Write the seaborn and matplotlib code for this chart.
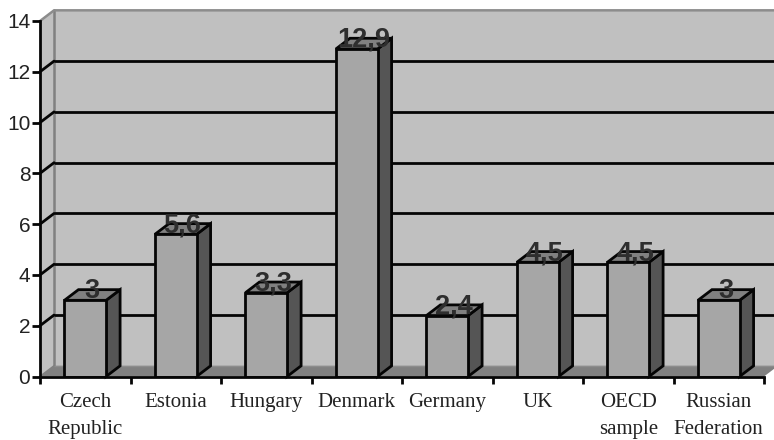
import matplotlib
matplotlib.use("Agg")
import matplotlib.pyplot as plt
from matplotlib.patches import Polygon
import numpy as np
import pandas as pd
import seaborn as sns

countries = ["Czech\nRepublic", "Estonia", "Hungary", "Denmark", "Germany",
             "UK", "OECD\nsample", "Russian\nFederation"]
values = [3, 5.6, 3.3, 12.9, 2.4, 4.5, 4.5, 3]
y_ticks = [0, 2, 4, 6, 8, 10, 12, 14]

# Faux-3D extrusion, in data units
DX, DY = 0.155, 0.42
BAR_W = 0.46
INK = "#050505"
LW = 2.0

sns.set_theme(style="white")
plt.rcParams["font.family"] = ["Liberation Sans", "DejaVu Sans"]

fig = plt.figure(figsize=(7.74, 4.40), dpi=100, facecolor="white")
ax = fig.add_axes([40 / 774, 1 - 376.5 / 440, 724 / 774, 355.5 / 440])

df = pd.DataFrame({"country": countries, "value": values})
sns.barplot(data=df, x="country", y="value", ax=ax, color="#a6a6a6", saturation=1,
            width=BAR_W, edgecolor=INK, linewidth=LW, zorder=5)

ax.set_xlim(-0.5, 7.5)
ax.set_ylim(0, 14)
L, R = -0.5, 7.5
right_edge = R + 0.2


def poly(points, face, edge="none", lw=0, z=1):
    ax.add_patch(Polygon(points, closed=True, facecolor=face, edgecolor=edge,
                         linewidth=lw, zorder=z, clip_on=False, joinstyle="miter"))


# Back wall, side wall and floor
poly([(L + DX, DY), (right_edge, DY), (right_edge, 14 + DY), (L + DX, 14 + DY)], "#c0c0c0")
poly([(L, 0), (L + DX, DY), (L + DX, 14 + DY), (L, 14)], "#c0c0c0")
poly([(L, 0), (R, 0), (R + DX, DY), (L + DX, DY)], "#808080")
ax.plot([L + DX, L + DX], [DY, 14 + DY], color="#808080", lw=1.8, zorder=2, clip_on=False)
ax.plot([L, L + DX, right_edge], [14, 14 + DY, 14 + DY], color="#8c8c8c", lw=1.8, zorder=2, clip_on=False)
ax.plot([L + DX, right_edge], [DY, DY], color="#8c8c8c", lw=1.0, zorder=2, clip_on=False)
ax.plot([L, L + DX], [0, DY], color="#808080", lw=1.2, zorder=2, clip_on=False)

# Gridlines run along the side wall and then across the back wall
for t in y_ticks[1:-1]:
    ax.plot([L, L + DX], [t, t + DY], color=INK, lw=LW, zorder=3, clip_on=False)
    ax.plot([L + DX + 0.01, right_edge], [t + DY, t + DY], color=INK, lw=LW, zorder=3, clip_on=False)

# Side and top faces of each column, then its value
for i, v in enumerate(values):
    x0, x1 = i - BAR_W / 2, i + BAR_W / 2
    poly([(x1, 0), (x1 + DX, DY), (x1 + DX, v + DY), (x1, v)], "#555555", INK, LW, 4)
    poly([(x0, v), (x1, v), (x1 + DX, v + DY), (x0 + DX, v + DY)], "#808080", INK, LW, 4)
    ax.text(i + 0.075, v + DY - 0.06, f"{v:g}".replace(".", ","), ha="center", va="center",
            fontsize=19.5, fontweight="bold", color="#2e2e2e", zorder=7,
            family=["Liberation Sans", "DejaVu Sans"])

# Axes and ticks
for name in ("top", "right"):
    ax.spines[name].set_visible(False)
for name in ("left", "bottom"):
    ax.spines[name].set_color(INK)
    ax.spines[name].set_linewidth(LW)
    ax.spines[name].set_zorder(6)

ax.set_xlabel("")
ax.set_ylabel("")
ax.set_yticks(y_ticks)
ax.tick_params(axis="y", which="major", length=5.5, width=LW, color=INK, pad=1.5,
               labelsize=15, labelcolor="#222222", left=True)
ax.set_xticks(np.arange(-0.5, 8, 1))
ax.set_xticklabels([])
ax.set_xticks(np.arange(len(countries)), minor=True)
ax.set_xticklabels(countries, minor=True, family=["Liberation Serif"], fontsize=15,
                   color="#222222", linespacing=1.55)
ax.tick_params(axis="x", which="major", length=5, width=LW, color=INK, bottom=True)
ax.tick_params(axis="x", which="minor", length=0, pad=12, bottom=False)
ax.set_axisbelow(False)

fig.savefig("out.png", dpi=100, facecolor="white")
